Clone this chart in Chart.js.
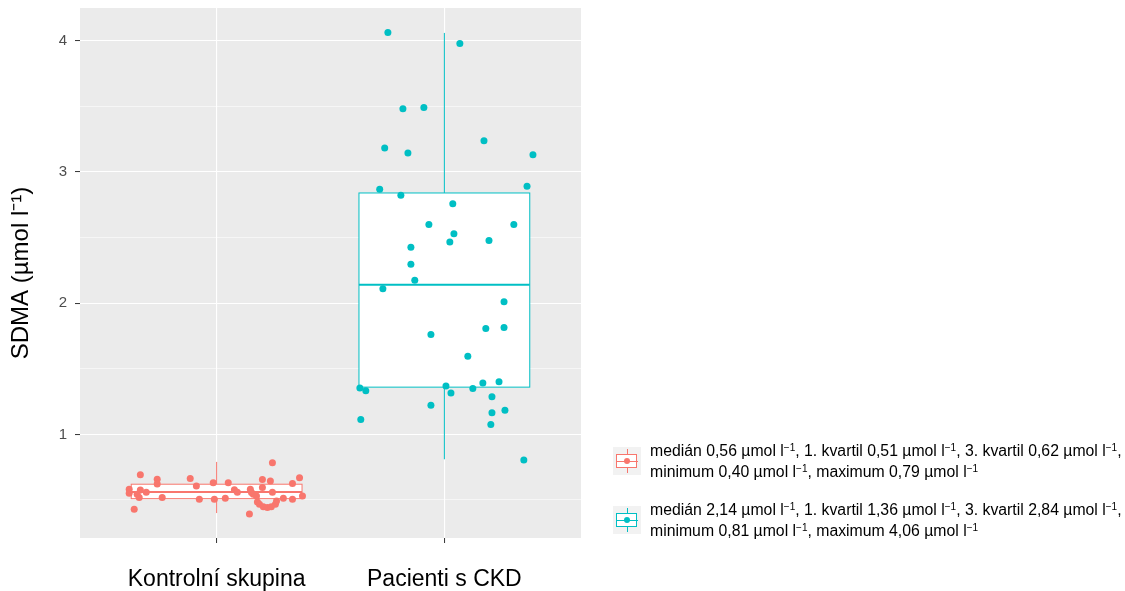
<!DOCTYPE html>
<html>
<head>
<meta charset="utf-8">
<script src="https://cdn.jsdelivr.net/npm/chart.js@4.4.0/dist/chart.umd.min.js"></script>
<style>
  html, body { margin: 0; padding: 0; background: #ffffff; }
  #wrap { position: relative; width: 1125px; height: 591px; }
  #legend { position: absolute; left: 613px; top: 440px; font-family: "Liberation Sans", Arial, sans-serif; font-size: 15.8px; color: #000; white-space: nowrap; }
  .item { display: flex; align-items: center; margin-bottom: 17px; }
  .key { position: relative; width: 28px; height: 28px; background: #f2f2f2; margin-right: 9px; flex: none; }
  .key .wh { position: absolute; left: 13.5px; top: 2px; width: 1px; height: 24px; }
  .key .bx { position: absolute; left: 3px; top: 7px; width: 21px; height: 14px; background: #fff; box-sizing: border-box; border: 1px solid; }
  .key .md { position: absolute; left: 3px; top: 13.5px; width: 22px; height: 1.5px; }
  .key .dt { position: absolute; left: 11px; top: 11px; width: 6px; height: 6px; border-radius: 50%; }
  .txt { line-height: 21px; }
  .txt sup { font-size: 10px; vertical-align: 5px; line-height: 0; }
</style>
</head>
<body>
<div id="wrap">
  <canvas id="chart" width="1125" height="591"></canvas>
  <div id="legend"></div>
</div>
<script>
// categories and colours
const categories = ['Kontrolní skupina', 'Pacienti s CKD'];
const groupColors = ['#F8766D', '#00BFC4'];

// box statistics: min, q1, median, q3, max
const boxMin = [0.40, 0.81];
const boxQ1 = [0.51, 1.36];
const boxMedian = [0.56, 2.14];
const boxQ3 = [0.62, 2.84];
const boxMax = [0.79, 4.06];

// jittered points, control group (x offset from category, value)
const ctrlJitter = [-0.335, -0.261, -0.261, -0.116, -0.089, -0.015, 0.051, -0.384, -0.384, -0.335,
  -0.309, -0.349, -0.340, -0.239, -0.076, -0.010, -0.362, 0.038, 0.245, 0.201,
  0.236, 0.201, 0.364, 0.333, 0.078, 0.091, 0.148, 0.153, 0.161, 0.175,
  0.245, 0.179, 0.188, 0.205, 0.223, 0.240, 0.258, 0.263, 0.293, 0.333,
  0.377, 0.144];
const ctrlValues = [0.693, 0.657, 0.622, 0.663, 0.606, 0.632, 0.632, 0.581, 0.551, 0.576,
  0.558, 0.543, 0.518, 0.518, 0.505, 0.505, 0.429, 0.513, 0.784, 0.655,
  0.645, 0.594, 0.670, 0.625, 0.578, 0.558, 0.581, 0.556, 0.543, 0.530,
  0.558, 0.485, 0.467, 0.449, 0.442, 0.449, 0.467, 0.492, 0.513, 0.505,
  0.530, 0.393];

// jittered points, CKD patients
const ckdJitter = [-0.248, 0.068, -0.182, -0.090, -0.262, -0.160, 0.174, 0.389, -0.284, -0.191,
  0.363, 0.037, -0.068, 0.305, 0.042, 0.024, 0.196, -0.147, -0.147, -0.130,
  -0.270, 0.262, 0.182, 0.262, -0.059, 0.103, -0.371, -0.345, 0.007, 0.029,
  0.125, 0.169, 0.240, 0.209, -0.059, 0.209, 0.266, 0.204, -0.367, 0.349];
const ckdValues = [4.063, 3.980, 3.482, 3.492, 3.183, 3.145, 3.239, 3.132, 2.868, 2.822,
  2.891, 2.757, 2.599, 2.599, 2.530, 2.467, 2.477, 2.426, 2.297, 2.175,
  2.109, 2.010, 1.807, 1.815, 1.762, 1.596, 1.353, 1.333, 1.368, 1.315,
  1.350, 1.391, 1.401, 1.287, 1.221, 1.165, 1.183, 1.076, 1.114, 0.804];

// axis ticks
const yMajorTicks = [1, 2, 3, 4];
const yMinorTicks = [0.5, 1.5, 2.5, 3.5];

const boxWidth = 0.75;

function toPoints(cat, jitter, values) {
    return values.map((v, i) => ({ x: cat + jitter[i], y: v }));
}

// grey panel background
const panelBg = {
    id: 'panelBg',
    beforeDraw(chart) {
        const { ctx, chartArea: a } = chart;
        ctx.save();
        ctx.fillStyle = '#EBEBEB';
        ctx.fillRect(a.left, a.top, a.right - a.left, a.bottom - a.top);
        ctx.restore();
    }
};

// boxplots drawn below the points
const boxPlots = {
    id: 'boxPlots',
    beforeDatasetsDraw(chart) {
        const { ctx, scales: { x, y } } = chart;
        ctx.save();
        categories.forEach((c, i) => {
            const cat = i + 1;
            const xc = x.getPixelForValue(cat);
            const xl = x.getPixelForValue(cat - boxWidth / 2);
            const xr = x.getPixelForValue(cat + boxWidth / 2);
            const yMin = y.getPixelForValue(boxMin[i]);
            const yQ1 = y.getPixelForValue(boxQ1[i]);
            const yMed = y.getPixelForValue(boxMedian[i]);
            const yQ3 = y.getPixelForValue(boxQ3[i]);
            const yMax = y.getPixelForValue(boxMax[i]);
            ctx.strokeStyle = groupColors[i];
            ctx.lineWidth = 1;
            // whiskers
            ctx.beginPath();
            ctx.moveTo(xc, yMin); ctx.lineTo(xc, yQ1);
            ctx.moveTo(xc, yQ3); ctx.lineTo(xc, yMax);
            ctx.stroke();
            // box
            ctx.fillStyle = '#ffffff';
            ctx.fillRect(xl, yQ3, xr - xl, yQ1 - yQ3);
            ctx.strokeRect(xl, yQ3, xr - xl, yQ1 - yQ3);
            // median
            ctx.lineWidth = 2;
            ctx.beginPath();
            ctx.moveTo(xl, yMed); ctx.lineTo(xr, yMed);
            ctx.stroke();
        });
        ctx.restore();
    }
};

const isMajor = v => Math.abs(v - Math.round(v)) < 1e-6;

const chart = new Chart(document.getElementById('chart').getContext('2d'), {
    type: 'scatter',
    data: {
        datasets: [
            {
                label: categories[0],
                data: toPoints(1, ctrlJitter, ctrlValues),
                backgroundColor: groupColors[0],
                borderWidth: 0,
                pointRadius: 3.5
            },
            {
                label: categories[1],
                data: toPoints(2, ckdJitter, ckdValues),
                backgroundColor: groupColors[1],
                borderWidth: 0,
                pointRadius: 3.5
            }
        ]
    },
    options: {
        responsive: false,
        animation: false,
        layout: { padding: { top: 8, right: 544, left: 0, bottom: 0 } },
        plugins: {
            legend: { display: false },
            tooltip: { enabled: false }
        },
        scales: {
            x: {
                type: 'linear',
                min: 0.4,
                max: 2.6,
                afterBuildTicks: (scale) => { scale.ticks = [1, 2].map(v => ({ value: v })); },
                afterFit: (scale) => {
                    scale.height = 53;
                    scale.paddingLeft = 0;
                    scale.paddingRight = 0;
                },
                border: { display: false },
                grid: {
                    color: '#ffffff',
                    lineWidth: 1.1,
                    tickColor: '#333333',
                    tickLength: 5,
                    tickWidth: 1
                },
                ticks: {
                    padding: 23,
                    color: '#000000',
                    font: { family: '"Liberation Sans", Arial, sans-serif', size: 23 },
                    callback: (v) => categories[Math.round(v) - 1]
                }
            },
            y: {
                type: 'linear',
                min: 0.21,
                max: 4.25,
                afterBuildTicks: (scale) => {
                    scale.ticks = yMinorTicks.concat(yMajorTicks).sort((a, b) => a - b).map(v => ({ value: v }));
                },
                afterFit: (scale) => {
                    scale.width = 80;
                    scale.paddingTop = 0;
                    scale.paddingBottom = 0;
                },
                border: { display: false },
                grid: {
                    color: '#ffffff',
                    lineWidth: (c) => isMajor(c.tick.value) ? 1.1 : 0.55,
                    tickColor: (c) => isMajor(c.tick.value) ? '#333333' : 'rgba(0,0,0,0)',
                    tickLength: 5,
                    tickWidth: 1
                },
                ticks: {
                    padding: 8,
                    color: '#4D4D4D',
                    font: { family: '"Liberation Sans", Arial, sans-serif', size: 15 },
                    callback: (v) => isMajor(v) ? String(Math.round(v)) : ''
                },
                title: {
                    display: true,
                    text: 'SDMA (µmol l⁻¹)',
                    color: '#000000',
                    padding: { top: 7, bottom: 0 },
                    font: { family: '"Liberation Sans", Arial, sans-serif', size: 24 }
                }
            }
        }
    },
    plugins: [panelBg, boxPlots]
});

// legend built from the box statistics
const fmt = v => v.toFixed(2).replace('.', ',');
const unit = ' µmol l<sup>−1</sup>';
const legend = document.getElementById('legend');
categories.forEach((c, i) => {
    const item = document.createElement('div');
    item.className = 'item';
    const col = groupColors[i];
    item.innerHTML =
        '<div class="key">' +
        '<div class="wh" style="background:' + col + '"></div>' +
        '<div class="bx" style="border-color:' + col + '"></div>' +
        '<div class="md" style="background:' + col + '"></div>' +
        '<div class="dt" style="background:' + col + '"></div>' +
        '</div>' +
        '<div class="txt">medián ' + fmt(boxMedian[i]) + unit + ', 1. kvartil ' + fmt(boxQ1[i]) + unit +
        ', 3. kvartil ' + fmt(boxQ3[i]) + unit + ',<br>minimum ' + fmt(boxMin[i]) + unit +
        ', maximum ' + fmt(boxMax[i]) + unit + '</div>';
    legend.appendChild(item);
});
</script>
</body>
</html>
